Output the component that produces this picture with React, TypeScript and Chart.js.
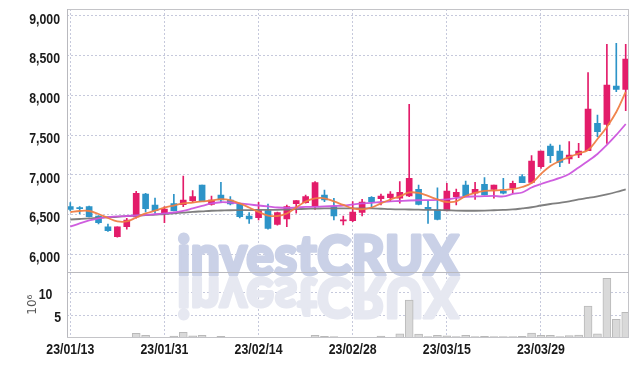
import React, { useEffect, useRef } from 'react';
import { Chart, registerables } from 'chart.js';

Chart.register(...registerables);

// ---- data ----
const dateLabels = ['23/01/13', '23/01/31', '23/02/14', '23/02/28', '23/03/15', '23/03/29'];
const dateTickIndex = [0, 10, 20, 30, 40, 50];
const priceTicks = [6000, 6500, 7000, 7500, 8000, 8500, 9000];
const volumeTicks = [5, 10];

const opens = [
  6599, 6587, 6599, 6482, 6344, 6221, 6347, 6470, 6759, 6620,
  6516, 6637, 6624, 6675, 6872, 6629, 6746, 6683, 6633, 6482,
  6461, 6549, 6377, 6444, 6637, 6650, 6599, 6746, 6599, 6420,
  6423, 6528, 6717, 6700, 6713, 6705, 6734, 6818, 6591, 6558,
  6549, 6725, 6872, 6768, 6881, 6818, 6797, 6831, 6977, 6906,
  7103, 7363, 7300, 7200, 7250, 7304, 7649, 7636, 8119, 8077,
];
const closes = [
  6566, 6574, 6473, 6398, 6297, 6344, 6432, 6768, 6574, 6549,
  6570, 6549, 6683, 6725, 6662, 6683, 6683, 6633, 6473, 6444,
  6549, 6327, 6524, 6599, 6675, 6725, 6902, 6683, 6482, 6428,
  6532, 6658, 6662, 6734, 6759, 6780, 6957, 6629, 6570, 6440,
  6797, 6780, 6734, 6818, 6746, 6872, 6768, 6893, 6902, 7174,
  7300, 7241, 7158, 7250, 7300, 7829, 7543, 8131, 8077, 8459,
];
const highs = [
  6650, 6600, 6608, 6488, 6381, 6344, 6453, 6793, 6768, 6709,
  6599, 6755, 6986, 6801, 6872, 6734, 6906, 6725, 6642, 6524,
  6654, 6633, 6532, 6620, 6675, 6746, 6914, 6809, 6704, 6482,
  6662, 6692, 6725, 6759, 6788, 6914, 7888, 6872, 6679, 6838,
  6893, 6822, 6923, 6906, 6965, 6872, 6956, 6923, 7002, 7241,
  7300, 7388, 7376, 7418, 7397, 8286, 7754, 8644, 8656, 8644,
];
const lows = [
  6545, 6510, 6470, 6381, 6289, 6214, 6315, 6453, 6532, 6516,
  6398, 6545, 6599, 6650, 6662, 6617, 6650, 6620, 6457, 6390,
  6432, 6315, 6365, 6347, 6516, 6642, 6566, 6662, 6432, 6369,
  6410, 6482, 6591, 6620, 6662, 6642, 6725, 6620, 6390, 6432,
  6545, 6620, 6734, 6692, 6746, 6705, 6759, 6768, 6902, 6893,
  7080, 7153, 7103, 7145, 7216, 7304, 7481, 7397, 8047, 7808,
];
// volume in millions of shares
const volumes = [
  0.3, 0.2, 0.3, 0.3, 0.3, 0.35, 0.4, 1.3, 0.85, 0.4,
  0.35, 0.7, 1.5, 0.75, 0.85, 0.4, 0.65, 0.3, 0.35, 0.3,
  0.3, 0.35, 0.3, 0.3, 0.3, 0.4, 0.85, 0.65, 0.6, 0.3,
  0.35, 0.3, 0.4, 0.7, 0.4, 1.15, 8.4, 1.1, 0.6, 0.85,
  0.75, 0.6, 0.85, 0.6, 0.65, 0.6, 0.6, 0.6, 0.65, 1.35,
  0.85, 0.85, 0.6, 0.8, 0.9, 7.15, 1.15, 13.1, 4.3, 5.8,
];
const maShort = [
  6529, 6545, 6545, 6507, 6457, 6413, 6413, 6463, 6514, 6549,
  6587, 6614, 6640, 6652, 6665, 6677, 6694, 6681, 6640, 6589,
  6533, 6488, 6482, 6514, 6589, 6665, 6703, 6705, 6665, 6621,
  6579, 6567, 6589, 6640, 6690, 6728, 6778, 6772, 6734, 6690,
  6658, 6665, 6734, 6772, 6797, 6803, 6810, 6822, 6847, 6898,
  7011, 7112, 7175, 7225, 7269, 7313, 7452, 7603, 7791, 8043,
];
const maMid = [
  6347, 6388, 6426, 6453, 6466, 6476, 6482, 6488, 6495, 6504,
  6514, 6526, 6545, 6577, 6608, 6640, 6655, 6652, 6640, 6627,
  6614, 6602, 6589, 6583, 6589, 6596, 6598, 6602, 6608, 6614,
  6627, 6640, 6646, 6658, 6665, 6671, 6677, 6680, 6681, 6684,
  6690, 6709, 6724, 6728, 6731, 6734, 6728, 6759, 6778, 6841,
  6885, 6923, 6961, 7011, 7093, 7175, 7263, 7376, 7502, 7640,
];
const maLong = [
  6438, 6444, 6451, 6460, 6466, 6472, 6480, 6486, 6492, 6500,
  6507, 6516, 6525, 6534, 6541, 6548, 6551, 6554, 6555, 6557,
  6558, 6558, 6560, 6564, 6568, 6572, 6575, 6578, 6579, 6579,
  6579, 6579, 6578, 6573, 6568, 6565, 6564, 6561, 6559, 6557,
  6554, 6550, 6548, 6548, 6550, 6554, 6558, 6564, 6577, 6592,
  6614, 6633, 6648, 6665, 6690, 6709, 6730, 6755, 6784, 6818,
];

// ---- styles ----
const RED = '#e31c6a';
const BLUE = '#2d94c8';
const GRID = '#c6c9dc';
const FRAME = '#c4c4c8';
const LABEL_FONT = 'bold 14.5px "Liberation Sans", Arial, sans-serif';
const LABEL_SX = 0.85;

const watermarkPlugin = {
  id: 'watermark',
  beforeDatasetsDraw(chart: any) {
    const ctx = chart.ctx as CanvasRenderingContext2D;
    const text = 'investCRUX';
    ctx.save();
    ctx.font = '900 56px Lato, "DejaVu Sans", sans-serif';
    ctx.textBaseline = 'alphabetic';
    ctx.lineJoin = 'round';
    const w = ctx.measureText(text).width;
    const sx = 282 / w;
    ctx.translate(177, 275);
    ctx.scale(sx, 1);
    ctx.fillStyle = '#cad1e7';
    ctx.strokeStyle = '#cad1e7';
    ctx.lineWidth = 3;
    ctx.fillText(text, 0, 0);
    ctx.strokeText(text, 0, 0);
    ctx.translate(0, 3);
    ctx.scale(1, -1);
    ctx.fillStyle = '#e6e8f1';
    ctx.strokeStyle = '#e6e8f1';
    ctx.fillText(text, 0, 0);
    ctx.strokeText(text, 0, 0);
    ctx.restore();
  },
};

const framePlugin = {
  id: 'frame',
  afterDatasetsDraw(chart: any) {
    const ctx = chart.ctx as CanvasRenderingContext2D;
    const { left, right, top, bottom } = chart.chartArea;
    const sep = Math.round(chart.scales.yv.top) + 0.5;
    ctx.save();
    ctx.lineWidth = 1;
    ctx.strokeStyle = FRAME;
    ctx.strokeRect(Math.round(left) + 0.5, Math.round(top) + 0.5, Math.round(right - left) - 1, Math.round(bottom - top));
    ctx.strokeStyle = '#b9b9be';
    ctx.beginPath();
    ctx.moveTo(left, sep);
    ctx.lineTo(right, sep);
    ctx.moveTo(Math.round(left) + 0.5, top);
    ctx.lineTo(Math.round(left) + 0.5, bottom);
    ctx.stroke();
    ctx.restore();
  },
};

// draws the scales' own tick labels in a narrowed bold face
const tickLabelPlugin = {
  id: 'tickLabels',
  afterDraw(chart: any) {
    const ctx = chart.ctx as CanvasRenderingContext2D;
    ctx.save();
    ctx.font = LABEL_FONT;
    ctx.fillStyle = '#1a1a1a';
    ctx.textBaseline = 'alphabetic';
    const put = (text: string, x: number, y: number, align: CanvasTextAlign) => {
      ctx.save();
      ctx.translate(x, y);
      ctx.scale(LABEL_SX, 1);
      ctx.textAlign = align;
      ctx.fillText(text, 0, 0);
      ctx.restore();
    };
    const yp = chart.scales.y;
    yp.ticks.forEach((t: any) => put(String(t.label), yp.right - 7, yp.getPixelForValue(t.value) + 7.7, 'right'));
    const yv = chart.scales.yv;
    yv.ticks.forEach((t: any) => put(String(t.label), yv.right - 6, yv.getPixelForValue(t.value) + 6.2, 'right'));
    const xs = chart.scales.x;
    xs.ticks.forEach((t: any) => put(String(t.label), xs.getPixelForValue(t.value), xs.top + 17, 'center'));
    ctx.restore();
  },
};

function zeroPad(s: any) {
  s.paddingTop = 0;
  s.paddingBottom = 0;
  s.paddingLeft = 0;
  s.paddingRight = 0;
}

export default function App() {
  const ref = useRef<HTMLCanvasElement>(null);

  useEffect(() => {
    const idx = opens.map((_, i) => i);
    const colors = idx.map((i) => (closes[i] >= opens[i] ? RED : BLUE));

    const chart = new Chart(ref.current as HTMLCanvasElement, {
      type: 'bar',
      data: {
        datasets: [
          {
            type: 'line', label: 'MA short', yAxisID: 'y', order: 0,
            data: idx.map((i) => ({ x: i, y: maShort[i] })),
            borderColor: 'rgba(239,126,69,0.95)', borderWidth: 1.8, pointRadius: 0, tension: 0.4,
          },
          {
            type: 'line', label: 'MA mid', yAxisID: 'y', order: 0,
            data: idx.map((i) => ({ x: i, y: maMid[i] })),
            borderColor: 'rgba(204,85,221,0.95)', borderWidth: 1.8, pointRadius: 0, tension: 0.3,
          },
          {
            type: 'line', label: 'MA long', yAxisID: 'y', order: 0,
            data: idx.map((i) => ({ x: i, y: maLong[i] })),
            borderColor: 'rgba(120,120,120,0.95)', borderWidth: 1.8, pointRadius: 0, tension: 0.4,
          },
          {
            type: 'bar', label: 'wick', yAxisID: 'y', order: 2, grouped: false,
            data: idx.map((i) => ({ x: i, y: [lows[i], highs[i]] })) as any,
            backgroundColor: colors, barThickness: 1,
          },
          {
            type: 'bar', label: 'body', yAxisID: 'y', order: 1, grouped: false,
            data: idx.map((i) => ({ x: i, y: [opens[i], closes[i]] })) as any,
            backgroundColor: colors, barThickness: 6, minBarLength: 1,
          },
          {
            type: 'bar', label: 'volume', yAxisID: 'yv', order: 3, grouped: false,
            data: idx.map((i) => ({ x: i, y: volumes[i] })) as any,
            backgroundColor: '#d9d9d9', borderColor: '#b9b9b9', borderWidth: 1, barThickness: 8,
          },
        ] as any,
      },
      options: {
        animation: false,
        responsive: false,
        maintainAspectRatio: false,
        layout: { padding: { top: 9, right: 10, left: 0, bottom: 0 } },
        plugins: { legend: { display: false }, tooltip: { enabled: false } },
        scales: {
          x: {
            type: 'linear',
            min: -0.35,
            max: 59.35,
            offset: false,
            grid: { color: GRID, lineWidth: 1, drawTicks: false, offset: false },
            border: { display: false, dash: [2, 2] },
            afterBuildTicks: (s: any) => { s.ticks = dateTickIndex.map((v) => ({ value: v })); },
            afterFit: (s: any) => { s.height = 29; zeroPad(s); },
            ticks: {
              display: false,
              autoSkip: false,
              maxRotation: 0,
              callback: (v: any) => {
                const k = dateTickIndex.indexOf(Number(v));
                return k >= 0 ? dateLabels[k] : '';
              },
            },
          },
          yv: {
            type: 'linear',
            position: 'left',
            stack: 'panels',
            stackWeight: 1,
            min: 0.49,
            max: 14.38,
            grid: { color: GRID, lineWidth: 1, drawTicks: false },
            border: { display: false, dash: [2, 2] },
            afterBuildTicks: (s: any) => { s.ticks = volumeTicks.map((v) => ({ value: v })); },
            afterFit: (s: any) => { s.width = 67; zeroPad(s); },
            title: {
              display: true,
              text: '10⁶',
              color: '#555',
              font: { family: '"DejaVu Sans", sans-serif', size: 12 },
              padding: { top: 26, bottom: 0 },
            },
            ticks: {
              display: false,
              callback: (v: any) => (Number(v) === 10 ? '10\u2002\u2009' : String(v)),
            },
          },
          y: {
            type: 'linear',
            position: 'left',
            stack: 'panels',
            stackWeight: 4.07,
            min: 5773,
            max: 9088,
            grid: { color: GRID, lineWidth: 1, drawTicks: false },
            border: { display: false, dash: [2, 2] },
            afterBuildTicks: (s: any) => { s.ticks = priceTicks.map((v) => ({ value: v })); },
            afterFit: (s: any) => { s.width = 67; zeroPad(s); },
            ticks: {
              display: false,
              callback: (v: any) => Number(v).toLocaleString('en-US'),
            },
          },
        } as any,
      },
      plugins: [watermarkPlugin, framePlugin, tickLabelPlugin],
    });

    return () => chart.destroy();
  }, []);

  return (
    <div style={{ position: 'fixed', left: 0, top: 0, width: 639, height: 366, background: '#fff' }}>
      <canvas ref={ref} width={639} height={366} style={{ display: 'block' }} />
    </div>
  );
}
